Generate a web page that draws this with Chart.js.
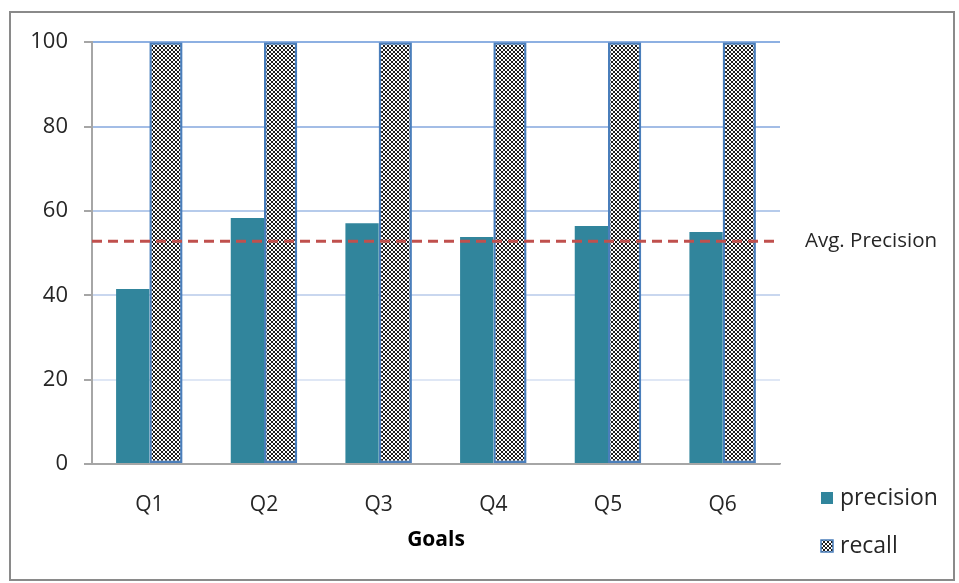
<!DOCTYPE html>
<html>
<head>
<meta charset="utf-8">
<script src="https://cdn.jsdelivr.net/npm/chart.js@4.4.0/dist/chart.umd.min.js"></script>
<style>
  body { margin: 0; background: #fff; }
  #frame { position: absolute; left: 9px; top: 11px; width: 942px; height: 566px; border: 2px solid #8a8a8a; }
</style>
</head>
<body>
<div id="frame"><canvas id="goals-chart" width="942" height="566"></canvas></div>
<script>
const categories = ["Q1", "Q2", "Q3", "Q4", "Q5", "Q6"];
const precision = [41.5, 58.3, 57.1, 53.8, 56.4, 55.0];
const recall = [100, 100, 100, 100, 100, 100];
const avgPrecision = 52.8;
const yTicks = [0, 20, 40, 60, 80, 100];

const FONT = "'Open Sans', Lato, sans-serif";
const TEAL = "#31859c";

// small checkerboard fill for the recall bars
function checker() {
  const c = document.createElement("canvas");
  c.width = 4; c.height = 4;
  const g = c.getContext("2d");
  g.fillStyle = "#fff";
  g.fillRect(0, 0, 4, 4);
  g.fillStyle = "#1e1e1e";
  g.fillRect(0, 0, 2, 2);
  g.fillRect(2, 2, 2, 2);
  return g.createPattern(c, "repeat");
}
const recallFill = checker();

const gridColors = { 0: "#a6a6a6", 20: "#dfe7f5", 40: "#c9d7ef", 60: "#b6cbeb", 80: "#a3bde6", 100: "#8db0e2" };

// avg line + its label + the legend at bottom right
const extras = {
  id: "extras",
  afterDatasetsDraw(chart) {
    const ctx = chart.ctx;
    const area = chart.chartArea;
    const y = chart.scales.y.getPixelForValue(avgPrecision);
    ctx.save();
    ctx.strokeStyle = "#c0504d";
    ctx.lineWidth = 3;
    ctx.setLineDash([10, 6]);
    ctx.beginPath();
    ctx.moveTo(area.left, y);
    ctx.lineTo(area.right - 5, y);
    ctx.stroke();
    ctx.setLineDash([]);

    ctx.fillStyle = "#262626";
    ctx.font = "20.5px " + FONT;
    ctx.textBaseline = "middle";
    ctx.textAlign = "left";
    ctx.fillText("Avg. Precision", 794, y);

    // legend
    const ds = chart.data.datasets;
    const rows = [485, 533];
    ctx.font = "23px " + FONT;
    ds.forEach((d, i) => {
      const ly = rows[i];
      ctx.fillStyle = d.backgroundColor;
      ctx.fillRect(810, ly - 6, 12, 12);
      if (d.borderWidth) {
        ctx.strokeStyle = d.borderColor;
        ctx.lineWidth = 1.5;
        ctx.strokeRect(810, ly - 6, 12, 12);
      }
      ctx.fillStyle = "#262626";
      ctx.fillText(d.label, 829, ly);
    });
    ctx.restore();
  }
};

const config = {
  type: "bar",
  data: {
    labels: categories,
    datasets: [
      { label: "precision", data: precision, backgroundColor: TEAL, borderWidth: 0 },
      { label: "recall", data: recall, backgroundColor: recallFill, borderColor: "#4a7ebb", borderWidth: 2.5, borderSkipped: false }
    ]
  },
  options: {
    responsive: false,
    animation: false,
    layout: { padding: { top: 29, right: 173, left: 0, bottom: 0 } },
    datasets: { bar: { categoryPercentage: 0.58, barPercentage: 1 } },
    plugins: {
      legend: { display: false },
      tooltip: { enabled: false }
    },
    scales: {
      x: {
        grid: { display: false },
        border: { display: true, color: "#a6a6a6", width: 1.5 },
        ticks: { color: "#262626", font: { family: FONT, size: 21 }, padding: 20 },
        title: { display: true, text: "Goals", color: "#000", font: { family: FONT, size: 21, weight: "bold" }, padding: { top: 10, bottom: 26 } },
        afterFit: (s) => { s.height = 115; }
      },
      y: {
        min: 0,
        max: 100,
        afterBuildTicks: (s) => { s.ticks = yTicks.map((v) => ({ value: v })); },
        grid: {
          color: (c) => gridColors[c.tick.value] || "#c9d7ef",
          lineWidth: 2,
          tickLength: 8,
          tickColor: "#a6a6a6"
        },
        border: { display: true, color: "#a6a6a6", width: 2 },
        ticks: { color: "#262626", font: { family: FONT, size: 22 }, padding: 16 },
        afterFit: (s) => { s.width = 81; }
      }
    }
  },
  plugins: [extras]
};

window.addEventListener("load", function () {
  new Chart(document.getElementById("goals-chart"), config);
});
</script>
</body>
</html>
